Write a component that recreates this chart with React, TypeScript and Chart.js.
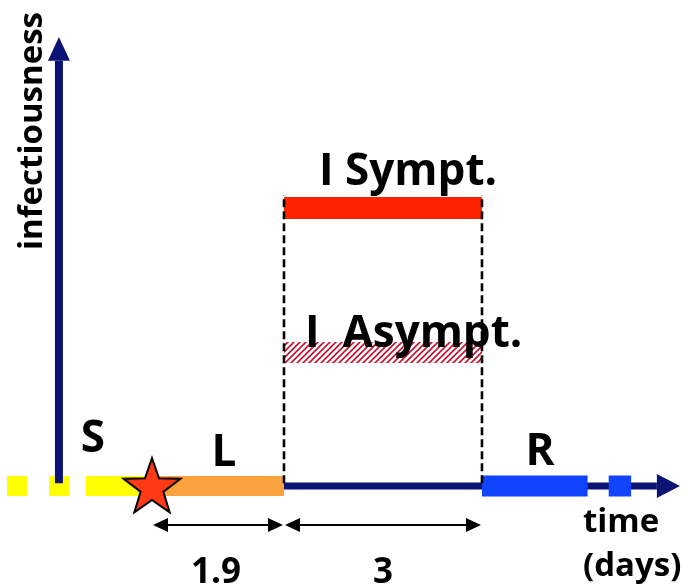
import React, { useEffect, useRef } from 'react';
import { Chart, registerables } from 'chart.js';
Chart.register(...registerables);

// ---- data (time in days from infection, infectiousness relative) ----
const timeRange = [-2.303, 8.152];
const infRange = [-0.3633, 1.7482];
const phaseBounds = [0, 2.0, 5.0]; // infection, end latent, end infectious
const symptInfectiousness = [1.0];
const asymptInfectiousness = [0.48];
const susceptibleDashes = [[-2.197, -1.894], [-1.561, -1.258], [-1.0, 0]];
const recoveredBlocks = [[5.0, 6.6], [6.92, 7.26]];
const yAxisDay = [-1.41];
const yAxisExtent = [0, 1.53, 1.615]; // start, arrow base, arrow tip
const timeAxisExtent = [2.0, 7.65, 8.0]; // start, arrow base, arrow tip
const dividerTop = [1.047];
const durationRowY = [-0.14];
const durationLabels = ['1.9', '3'];

const NAVY = '#0b1475';
const FONT = '"Open Sans", "DejaVu Sans", sans-serif';

function makeStar(): HTMLCanvasElement {
  const c = document.createElement('canvas');
  c.width = 66; c.height = 66;
  const g = c.getContext('2d')!;
  const cx = 33, cy = 35, R = 30, r = 12;
  g.beginPath();
  for (let i = 0; i < 10; i++) {
    const a = -Math.PI / 2 + (i * Math.PI) / 5;
    const rr = i % 2 === 0 ? R : r;
    const px = cx + rr * Math.cos(a), py = cy + rr * Math.sin(a);
    if (i === 0) g.moveTo(px, py); else g.lineTo(px, py);
  }
  g.closePath();
  g.fillStyle = '#ff3a14';
  g.fill();
  g.lineWidth = 2;
  g.lineJoin = 'miter';
  g.strokeStyle = '#000';
  g.stroke();
  return c;
}

function makeHatch(ctx: CanvasRenderingContext2D): CanvasPattern {
  const s = 6;
  const c = document.createElement('canvas');
  c.width = s; c.height = s;
  const g = c.getContext('2d')!;
  g.fillStyle = '#ffffff';
  g.fillRect(0, 0, s, s);
  g.strokeStyle = '#c8102e';
  g.lineWidth = 1.6;
  g.beginPath();
  g.moveTo(-1, s + 1); g.lineTo(s + 1, -1);
  g.moveTo(-1, 1); g.lineTo(1, -1);
  g.moveTo(s - 1, s + 1); g.lineTo(s + 1, s - 1);
  g.stroke();
  return ctx.createPattern(c, 'repeat')!;
}

const seg = (x1: number, y1: number, x2: number, y2: number, color: any, width: number, order: number, extra: any = {}) => ({
  type: 'line',
  data: [{ x: x1, y: y1 }, { x: x2, y: y2 }],
  borderColor: color,
  backgroundColor: color,
  borderWidth: width,
  borderCapStyle: 'butt',
  pointRadius: 0,
  pointHoverRadius: 0,
  fill: false,
  tension: 0,
  order,
  ...extra,
});

function arrowHead(ctx: CanvasRenderingContext2D, tx: number, ty: number, dx: number, dy: number, L: number, W: number, color: string) {
  const bx = tx - dx * L, by = ty - dy * L;
  const px = -dy, py = dx;
  ctx.beginPath();
  ctx.moveTo(tx, ty);
  ctx.lineTo(bx + px * W, by + py * W);
  ctx.lineTo(bx - px * W, by - py * W);
  ctx.closePath();
  ctx.fillStyle = color;
  ctx.fill();
}

const overlay = {
  id: 'overlay',
  afterDatasetsDraw(chart: any) {
    const { ctx, scales } = chart;
    const X = (v: number) => scales.x.getPixelForValue(v);
    const Y = (v: number) => scales.y.getPixelForValue(v);
    ctx.save();
    // axis arrowheads
    arrowHead(ctx, X(yAxisDay[0]), Y(yAxisExtent[2]), 0, -1, Y(yAxisExtent[1]) - Y(yAxisExtent[2]), 11, NAVY);
    arrowHead(ctx, X(timeAxisExtent[2]), Y(0), 1, 0, X(timeAxisExtent[2]) - X(timeAxisExtent[1]), 12, NAVY);
    // duration arrowheads
    const dy = Y(durationRowY[0]);
    for (let i = 0; i < phaseBounds.length - 1; i++) {
      const a = X(phaseBounds[i]) + 1, b = X(phaseBounds[i + 1]) - 1;
      arrowHead(ctx, a, dy, -1, 0, 15, 7, '#000');
      arrowHead(ctx, b, dy, 1, 0, 15, 7, '#000');
    }
    // texts
    ctx.fillStyle = '#000';
    ctx.textBaseline = 'alphabetic';
    const txt = (s: string, x: number, y: number, size: number, align: CanvasTextAlign) => {
      ctx.font = `bold ${size}px ${FONT}`;
      ctx.textAlign = align;
      ctx.fillText(s, X(x), Y(y));
    };
    txt('I Sympt.', 3.88, 1.083, 44, 'center');
    txt('I  Asympt.', 2.318, 0.5, 44, 'left');
    txt('S', -0.894, 0.122, 44, 'center');
    txt('L', 1.09, 0.072, 44, 'center');
    txt('R', 5.88, 0.0755, 44, 'center');
    txt('time', 6.53, -0.165, 33, 'left');
    txt('(days)', 6.53, -0.324, 33, 'left');
    txt(durationLabels[0], (phaseBounds[0] + phaseBounds[1]) / 2 - 0.03, -0.348, 35, 'center');
    txt(durationLabels[1], (phaseBounds[1] + phaseBounds[2]) / 2, -0.348, 35, 'center');
    // rotated y label
    ctx.save();
    ctx.translate(X(-1.667), Y(1.277));
    ctx.rotate(-Math.PI / 2);
    ctx.font = `bold 33px ${FONT}`;
    ctx.textAlign = 'center';
    ctx.fillText('infectiousness', 0, 0);
    ctx.restore();
    ctx.restore();
  },
};

export default function App() {
  const ref = useRef<HTMLCanvasElement>(null);
  useEffect(() => {
    document.body.style.margin = '0';
    const canvas = ref.current!;
    const ctx = canvas.getContext('2d')!;
    const hatch = makeHatch(ctx);
    const star = makeStar();
    const [t0, tL, tI] = phaseBounds;
    const datasets: any[] = [];
    // time axis
    datasets.push(seg(timeAxisExtent[0], 0, timeAxisExtent[1], 0, NAVY, 7, 9));
    // susceptible
    susceptibleDashes.forEach(([a, b]) => datasets.push(seg(a, 0, b, 0, '#ffff00', 20, 6)));
    // latent
    datasets.push(seg(t0, 0, tL, 0, '#fba33f', 20, 6));
    // infectious symptomatic / asymptomatic
    datasets.push(seg(tL, symptInfectiousness[0], tI, symptInfectiousness[0], '#ff2400', 22, 5));
    datasets.push(seg(tL, asymptInfectiousness[0], tI, asymptInfectiousness[0], hatch, 21, 5));
    // recovered
    recoveredBlocks.forEach(([a, b]) => datasets.push(seg(a, 0, b, 0, '#1144ff', 21, 4)));
    // dashed dividers (on top of bars)
    datasets.push(seg(tL, 0.01, tL, dividerTop[0], '#000', 2.6, 2, { borderDash: [8, 4] }));
    datasets.push(seg(tI, 0.01, tI, dividerTop[0], '#000', 2.6, 2, { borderDash: [8, 4] }));
    // y axis shaft
    datasets.push(seg(yAxisDay[0], yAxisExtent[0] + 0.01, yAxisDay[0], yAxisExtent[1], NAVY, 8, 3));
    // duration lines
    for (let i = 0; i < phaseBounds.length - 1; i++) {
      datasets.push(seg(phaseBounds[i] + 0.1, durationRowY[0], phaseBounds[i + 1] - 0.1, durationRowY[0], '#000', 2, 3));
    }
    // infection star
    datasets.push({
      type: 'scatter',
      data: [{ x: t0, y: 0 }],
      pointStyle: star,
      pointRadius: 30,
      pointHoverRadius: 30,
      order: 0,
    });
    const chart = new Chart(canvas, {
      type: 'line',
      data: { datasets },
      options: {
        animation: false,
        responsive: false,
        events: [],
        layout: { padding: 0, autoPadding: false },
        plugins: { legend: { display: false }, tooltip: { enabled: false } },
        scales: {
          x: { type: 'linear', min: timeRange[0], max: timeRange[1], display: false },
          y: { type: 'linear', min: infRange[0], max: infRange[1], display: false },
        },
      },
      plugins: [overlay],
    } as any);
    return () => chart.destroy();
  }, []);
  return (
    <div style={{ position: 'absolute', left: 0, top: 0, width: 690, height: 587, background: '#fff' }}>
      <canvas ref={ref} width={690} height={587} />
    </div>
  );
}
